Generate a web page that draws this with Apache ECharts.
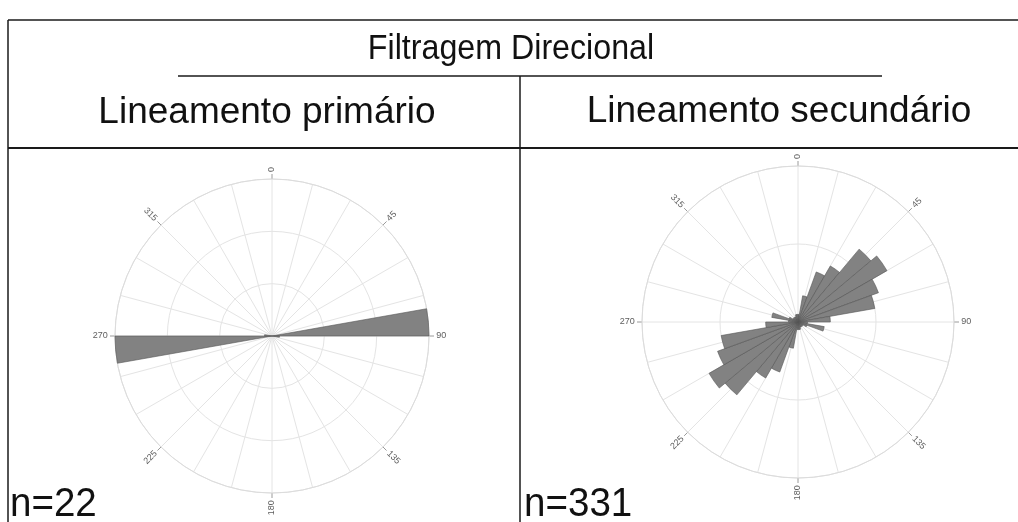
<!DOCTYPE html>
<html>
<head>
<meta charset="utf-8">
<script src="https://cdn.jsdelivr.net/npm/echarts@6/dist/echarts.min.js"></script>
<style>
html, body { margin: 0; padding: 0; background: #fff; }
#chart { width: 1018px; height: 522px; }
</style>
</head>
<body>
<div id="chart"></div>
<script>
// classes de 10 graus (0-10, 10-20, ... 350-360)
const binLabels = [];
for (let a = 0; a < 360; a += 10) binLabels.push(a + '-' + (a + 10));

// contagens por classe, dados axiais (simetricos)
const leftCounts = [
    0, 0, 0, 0, 0, 0, 0, 0, 21, 1, 0, 0, 0, 0, 0, 0, 0, 0,
    0, 0, 0, 0, 0, 0, 0, 0, 21, 1, 0, 0, 0, 0, 0, 0, 0, 0
];
const rightCounts = [
    4, 14, 28, 34, 50, 54, 45, 41, 17, 5, 14, 5, 3, 3, 3, 3, 4, 4,
    4, 14, 28, 34, 50, 54, 45, 41, 17, 5, 14, 5, 3, 3, 3, 3, 4, 4
];
const angleTicks = [0, 45, 90, 135, 180, 225, 270, 315];
const leftTotal = 22, rightTotal = 331;

const leftMax = 21, leftStep = 7;
const rightMax = 82, rightStep = 41;

const gridColor = '#e4e4e4';
const barColor = '#828282';

// rotulo radial, sempre legivel
function labelRotate(a) {
    let r = 90 - a;
    while (r > 90) r -= 180;
    while (r <= -90) r += 180;
    return r;
}

function tickLabels(max, radiusPx) {
    return angleTicks.map(a => {
        const txt = String(a);
        const offPx = 7 + txt.length * 2.6;
        return {
            value: [max * (1 + offPx / radiusPx), a],
            label: { rotate: labelRotate(a) }
        };
    });
}

function gridAngle(idx) {
    return {
        polarIndex: idx, type: 'value', min: 0, max: 360, interval: 45, startAngle: 90,
        axisLine: { lineStyle: { color: '#dcdcdc', width: 1 } },
        axisTick: { show: true, length: 5, lineStyle: { color: '#9a9a9a' } },
        axisLabel: { show: false },
        splitLine: { show: true, lineStyle: { color: gridColor, width: 1 } },
        minorTick: { show: false, splitNumber: 3 },
        minorSplitLine: { show: true, lineStyle: { color: gridColor, width: 1 } }
    };
}
function barAngle(idx) {
    return {
        polarIndex: idx, type: 'category', data: binLabels, startAngle: 90, boundaryGap: true,
        axisLine: { show: false }, axisTick: { show: false }, axisLabel: { show: false },
        splitLine: { show: false }
    };
}
function gridRadius(idx, max, step) {
    return {
        polarIndex: idx, type: 'value', min: 0, max: max, interval: step,
        axisLine: { show: false }, axisTick: { show: false }, axisLabel: { show: false },
        splitLine: { show: true, lineStyle: { color: gridColor, width: 1 } }
    };
}
function barRadius(idx, max, step) {
    return {
        polarIndex: idx, type: 'value', min: 0, max: max, interval: step,
        axisLine: { show: false }, axisTick: { show: false }, axisLabel: { show: false },
        splitLine: { show: false }
    };
}

const labelStyle = {
    show: true, position: 'inside', color: '#333', fontSize: 9,
    fontFamily: 'Liberation Sans, Arial, sans-serif',
    formatter: p => p.value[1]
};

const font = 'Liberation Sans, Arial, sans-serif';
const lineStyle = { stroke: '#1a1a1a', lineWidth: 1.5 };

let option = {
    animation: false,
    backgroundColor: '#fff',
    polar: [
        { center: [272, 336], radius: 157 },
        { center: [272, 336], radius: 157 },
        { center: [798, 322], radius: 156 },
        { center: [798, 322], radius: 156 }
    ],
    angleAxis: [gridAngle(0), barAngle(1), gridAngle(2), barAngle(3)],
    radiusAxis: [
        gridRadius(0, leftMax, leftStep), barRadius(1, leftMax, leftStep),
        gridRadius(2, rightMax, rightStep), barRadius(3, rightMax, rightStep)
    ],
    series: [
        {
            type: 'bar', coordinateSystem: 'polar', polarIndex: 1,
            data: leftCounts, barCategoryGap: '0%',
            itemStyle: { color: barColor, borderColor: '#555', borderWidth: 0.6 }
        },
        {
            type: 'bar', coordinateSystem: 'polar', polarIndex: 3,
            data: rightCounts, barCategoryGap: '0%',
            itemStyle: { color: barColor, borderColor: '#555', borderWidth: 0.6 }
        },
        {
            type: 'scatter', coordinateSystem: 'polar', polarIndex: 0, silent: true, clip: false,
            symbolSize: 1, itemStyle: { color: 'rgba(0,0,0,0)' },
            data: tickLabels(leftMax, 157), label: labelStyle
        },
        {
            type: 'scatter', coordinateSystem: 'polar', polarIndex: 2, silent: true, clip: false,
            symbolSize: 1, itemStyle: { color: 'rgba(0,0,0,0)' },
            data: tickLabels(rightMax, 156), label: labelStyle
        }
    ],
    graphic: [
        { type: 'line', shape: { x1: 8, y1: 20, x2: 1018, y2: 20 }, style: lineStyle },
        { type: 'line', shape: { x1: 8, y1: 20, x2: 8, y2: 522 }, style: lineStyle },
        { type: 'line', shape: { x1: 178, y1: 76, x2: 882, y2: 76 }, style: lineStyle },
        { type: 'line', shape: { x1: 520, y1: 76, x2: 520, y2: 522 }, style: lineStyle },
        { type: 'line', shape: { x1: 8, y1: 148, x2: 1018, y2: 148 }, style: { stroke: '#1a1a1a', lineWidth: 2 } },
        { type: 'text', x: 511, y: 49, scaleX: 0.92, style: { text: 'Filtragem Direcional', font: '35px ' + font, fill: '#111', textAlign: 'center', textVerticalAlign: 'middle' } },
        { type: 'text', x: 267, y: 113, style: { text: 'Lineamento primário', font: '37px ' + font, fill: '#111', textAlign: 'center', textVerticalAlign: 'middle' } },
        { type: 'text', x: 779, y: 112, style: { text: 'Lineamento secundário', font: '37px ' + font, fill: '#111', textAlign: 'center', textVerticalAlign: 'middle' } },
        { type: 'text', x: 10, y: 505, scaleX: 0.94, style: { text: 'n=' + leftTotal, font: '41px ' + font, fill: '#111', textAlign: 'left', textVerticalAlign: 'middle' } },
        { type: 'text', x: 524, y: 505, scaleX: 0.94, style: { text: 'n=' + rightTotal, font: '41px ' + font, fill: '#111', textAlign: 'left', textVerticalAlign: 'middle' } }
    ]
};

let chart = echarts.init(document.getElementById('chart'));
chart.setOption(option);
</script>
</body>
</html>
